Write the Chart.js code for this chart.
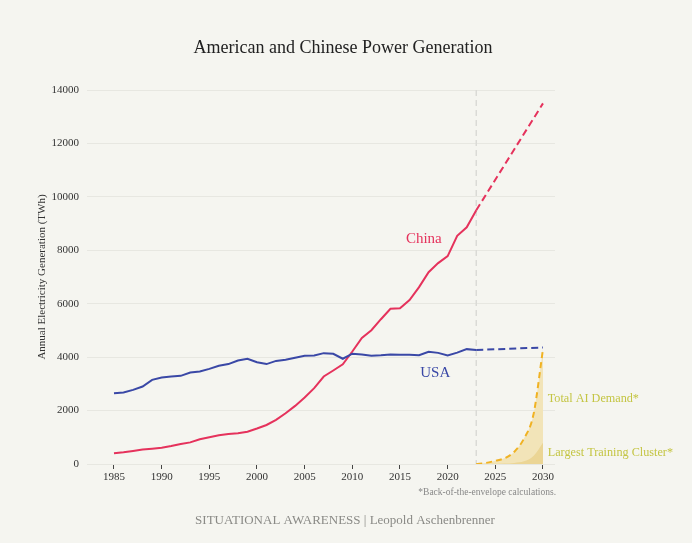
<!DOCTYPE html>
<html>
<head>
<meta charset="utf-8">
<script src="https://cdn.jsdelivr.net/npm/chart.js@4.4.0/dist/chart.umd.min.js"></script>
<style>
  html, body { margin: 0; padding: 0; background: #f5f5f0; }
  #wrap { width: 692px; height: 543px; }
</style>
</head>
<body>
<div id="wrap"><canvas id="c" width="692" height="543"></canvas></div>
<script>
// ---- Data ----
const years = [1985,1986,1987,1988,1989,1990,1991,1992,1993,1994,1995,1996,1997,1998,1999,
  2000,2001,2002,2003,2004,2005,2006,2007,2008,2009,2010,2011,2012,2013,2014,2015,2016,
  2017,2018,2019,2020,2021,2022,2023];
const usa = [2650,2675,2775,2900,3150,3240,3275,3300,3425,3460,3560,3675,3740,3875,3940,
  3810,3740,3860,3900,3975,4050,4060,4150,4125,3940,4130,4100,4050,4070,4100,4090,4090,
  4070,4200,4160,4060,4170,4300,4270];
const china = [400,440,490,540,575,610,675,750,810,925,1000,1075,1125,1150,1210,
  1330,1460,1650,1900,2175,2490,2840,3275,3500,3730,4210,4720,5010,5420,5810,5830,6140,
  6620,7180,7520,7780,8540,8860,9500];
const projYears = [2023, 2030];
const usaProj = [4270, 4360];
const chinaProj = [9500, 13500];
const aiYears = [2023,2024,2025,2026,2027,2028,2029,2030];
const aiDemand = [0,40,120,220,460,950,1850,4300];
const clusterDemand = [0,2,6,15,40,100,300,800];
const xTicks = [1985,1990,1995,2000,2005,2010,2015,2020,2025,2030];
const yTicks = [0,2000,4000,6000,8000,10000,12000,14000];

const pts = (xs, ys) => xs.map((x, i) => ({ x: x, y: ys[i] }));

const SERIF = '"Liberation Serif", "DejaVu Serif", serif';
const RED = '#e5325c';
const BLUE = '#3a48a6';
const ORANGE = '#f0b223';
const LABEL_GREEN = '#c4c543';

const annotations = {
  id: 'annotations',
  beforeDatasetsDraw(chart) {
    const { ctx, chartArea, scales: { x, y } } = chart;
    const px = x.getPixelForValue(2023);
    ctx.save();
    ctx.strokeStyle = '#dadad6';
    ctx.lineWidth = 1.5;
    ctx.setLineDash([6, 4]);
    ctx.beginPath();
    ctx.moveTo(px, chartArea.top);
    ctx.lineTo(px, chartArea.bottom);
    ctx.stroke();
    ctx.restore();
  },
  afterDraw(chart) {
    const { ctx, scales: { x, y } } = chart;
    ctx.save();
    ctx.textBaseline = 'middle';
    // title
    ctx.fillStyle = '#222';
    ctx.textAlign = 'center';
    ctx.font = '18px ' + SERIF;
    ctx.fillText('American and Chinese Power Generation', 343, 48);
    // y axis title
    ctx.save();
    ctx.translate(42, 277);
    ctx.rotate(-Math.PI / 2);
    ctx.font = '11px ' + SERIF;
    ctx.fillStyle = '#333';
    ctx.fillText('Annual Electricity Generation (TWh)', 0, 0);
    ctx.restore();
    // series labels
    ctx.font = '15px ' + SERIF;
    ctx.fillStyle = RED;
    ctx.fillText('China', x.getPixelForValue(2017.5), y.getPixelForValue(8420));
    ctx.fillStyle = BLUE;
    ctx.fillText('USA', x.getPixelForValue(2018.7), y.getPixelForValue(3400));
    ctx.textAlign = 'left';
    ctx.font = '12.2px ' + SERIF;
    ctx.fillStyle = LABEL_GREEN;
    ctx.fillText('Total AI Demand*', x.getPixelForValue(2030.5), y.getPixelForValue(2430));
    ctx.fillText('Largest Training Cluster*', x.getPixelForValue(2030.5), y.getPixelForValue(410));
    // footnote
    ctx.textAlign = 'right';
    ctx.font = '9.5px ' + SERIF;
    ctx.fillStyle = '#888';
    ctx.fillText('*Back-of-the-envelope calculations.', 556, 492);
    // credit
    ctx.textAlign = 'center';
    ctx.font = '13px ' + SERIF;
    ctx.fillStyle = '#8a8a86';
    ctx.fillText('SITUATIONAL AWARENESS | Leopold Aschenbrenner', 345, 521);
    ctx.restore();
  }
};

new Chart(document.getElementById('c'), {
  type: 'line',
  data: {
    datasets: [
      { label: 'Largest Training Cluster', data: pts(aiYears, clusterDemand), borderWidth: 0,
        borderColor: 'rgba(0,0,0,0)', backgroundColor: '#ebd595', fill: 'origin',
        cubicInterpolationMode: 'monotone', pointRadius: 0, order: 0 },
      { label: 'Total AI Demand', data: pts(aiYears, aiDemand), borderColor: ORANGE, borderWidth: 2,
        borderDash: [6, 4], backgroundColor: '#f2e4b8', fill: 'origin',
        cubicInterpolationMode: 'monotone', pointRadius: 0, order: 1 },
      { label: 'USA', data: pts(years, usa), borderColor: BLUE, borderWidth: 2, pointRadius: 0,
        fill: false, tension: 0, order: 2 },
      { label: 'USA projection', data: pts(projYears, usaProj), borderColor: BLUE, borderWidth: 2,
        borderDash: [7, 4], pointRadius: 0, fill: false, order: 2 },
      { label: 'China', data: pts(years, china), borderColor: RED, borderWidth: 2, pointRadius: 0,
        fill: false, tension: 0, order: 2 },
      { label: 'China projection', data: pts(projYears, chinaProj), borderColor: RED, borderWidth: 2,
        borderDash: [7, 4], pointRadius: 0, fill: false, order: 2 }
    ]
  },
  options: {
    responsive: false,
    animation: false,
    layout: { padding: { top: 90, right: 137, bottom: 49, left: 0 } },
    plugins: { legend: { display: false }, tooltip: { enabled: false }, title: { display: false } },
    scales: {
      x: {
        type: 'linear', min: 1982.168, max: 2031.259,
        afterBuildTicks: (s) => { s.ticks = xTicks.map(v => ({ value: v })); },
        afterFit: (s) => { s.height = 30; },
        ticks: { callback: (v) => String(v), color: '#333', font: { family: SERIF, size: 11 }, padding: 2, maxRotation: 0 },
        grid: { display: true, drawOnChartArea: false, drawTicks: true, tickLength: 5, color: '#444', lineWidth: 1 },
        border: { display: false }
      },
      y: {
        min: 0, max: 14000,
        afterBuildTicks: (s) => { s.ticks = yTicks.map(v => ({ value: v })); },
        afterFit: (s) => { s.width = 87; },
        ticks: { callback: (v) => String(v), color: '#333', font: { family: SERIF, size: 11 }, padding: 8 },
        grid: { color: '#e7e7e1', lineWidth: 1, drawTicks: false },
        border: { display: false }
      }
    }
  },
  plugins: [annotations]
});
</script>
</body>
</html>
